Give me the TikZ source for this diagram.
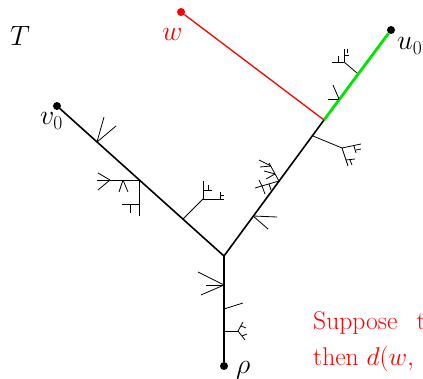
\RequirePackage{fix-cm}
\documentclass[tikz,border=0pt]{standalone}
\definecolor{brightgreen}{RGB}{0,230,0}
\tikzset{
  mainedge/.style={line width=1.6pt, line cap=round},
  twig/.style={line width=0.8pt},
  dotnode/.style={circle, fill, inner sep=0pt, minimum size=8pt},
  lbl/.style={inner sep=0pt, anchor=base west, font=\fontsize{28}{34}\selectfont},
  redtext/.style={inner sep=0pt, anchor=base west, text=red, font=\fontsize{25.6}{30}\selectfont},
}
\begin{document}
\begin{tikzpicture}[x=1pt,y=-1pt]
\useasboundingbox (0,0) rectangle (423,379);
% vertices
\node[dotnode] (rho) at (224,366) {};
\coordinate (B) at (224,256);
\node[dotnode] (v0) at (57,106) {};
\coordinate (J) at (324,120);
\node[dotnode] (u0) at (391,30) {};
\node[dotnode, red] (w) at (181,12) {};
% main tree
\draw[mainedge] (rho) -- (B) -- (v0);
\draw[mainedge] (B) -- (J);
\draw[brightgreen, line width=2.8pt] (J) -- (u0);
\draw[red, line width=1.3pt] (w) -- (J);
% labels
\node[lbl] (Tlbl) at (10,46) {$T$};
\node[lbl, text=red] (wlbl) at (162,40.5) {$w$};
\node[lbl] (v0lbl) at (40,125) {$v_0$};
\node[lbl] (u0lbl) at (397,50) {$u_0$};
\node[lbl] (rholbl) at (236,373.5) {$\rho$};
\node[redtext] (line1) at (313,329.5) {Suppose\hspace{19pt}t};
\node[redtext] (line2) at (313,365.5) {then $d(w,$};
% twigs
\begin{scope}[twig]
% left branch
\draw (97,142) -- (104,117);
\draw (97,142) -- (116,126);
\draw (139,180) -- (97,180);
\draw (110,180) -- (98,173);
\draw (110,180) -- (98,190);
\draw (123,180) -- (119,192);
\draw (123,180) -- (128,192);
\draw (139,180) -- (139,216);
\draw (139,204) -- (122,204);
\draw (130,204) -- (130,213);
\draw (183,219) -- (203,199);
\draw (203,199) -- (203,181);
\draw (203,199) -- (224,199);
\draw (203,190) -- (212,190);
\draw (208,190) -- (208,185);
\draw (220,199) -- (220,192);
\draw (220,195) -- (224,195);
% right branch
\draw (253,216) -- (277,217);
\draw (253,216) -- (268,229);
\draw (279,181) -- (269,163);
\draw (271,166) -- (259,160);
\draw (271,166) -- (260,167);
\draw (275,174) -- (264,171);
\draw (275,174) -- (266,179);
\draw (279,181) -- (255,188);
\draw (262,186) -- (259,180);
\draw (262,186) -- (265,194);
\draw (269,184) -- (271,190);
\draw (313,136) -- (342,148);
\draw (342,148) -- (361,144);
\draw (342,148) -- (348,166);
\draw (354,146) -- (356,153);
\draw (356,150) -- (361,149);
\draw (346,160) -- (355,159);
\draw (350,160) -- (352,165);
% green branch
\draw (339,99) -- (333,85);
\draw (339,99) -- (328,99);
\draw (357,73) -- (344,62);
\draw (344,62) -- (332,62);
\draw (344,62) -- (344,49);
\draw (338,62) -- (338,56);
\draw (344,55) -- (349,55);
\draw (347,49) -- (347,53);
% trunk
\draw (224,285) -- (198,272);
\draw (224,285) -- (206,285);
\draw (224,285) -- (201,295);
\draw (224,309) -- (243,303);
\draw (224,331) -- (238,331);
\draw (238,331) -- (243,322);
\draw (238,331) -- (245,340);
\draw (241,326) -- (246,328);
\draw (242,336) -- (247,334);
\end{scope}
\end{tikzpicture}
\end{document}
